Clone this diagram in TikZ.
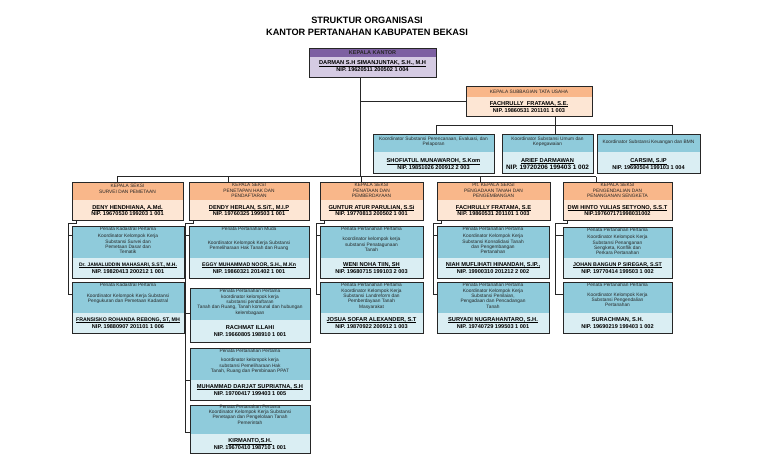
\documentclass[tikz,border=0pt]{standalone}
\usepackage{fontspec}
\setmainfont{Liberation Sans}
\usetikzlibrary{fit,calc}
\definecolor{ohead}{HTML}{F9B78A}
\definecolor{olow}{HTML}{FDE6D4}
\definecolor{bhead}{HTML}{8FCBDB}
\definecolor{blow}{HTML}{DAEEF3}
\definecolor{phead}{HTML}{7D60A2}
\definecolor{plow}{HTML}{D5CBE3}
\newcommand\ul[1]{\setbox0\hbox{#1}\rlap{\raisebox{-1.1pt}{\rule{\wd0}{0.5pt}}}\box0}
\newcommand\nip[1]{\fontsize{5.6}{6.7}\selectfont #1}
\newcommand\fs[1]{\fontsize{#1}{6.7}\selectfont}
\tikzset{
  frame/.style={draw=black!85, line width=0.9pt},
  small/.style={font=\fontsize{4.8}{5.3}\selectfont, align=center, inner sep=0pt, text=black!85},
  nm/.style={font=\fontsize{5.7}{6.7}\selectfont\bfseries, align=center, inner sep=0pt},
  wire/.style={draw=black!85, line width=0.8pt},
}
\newcommand\orgbox[7]{%
  \fill[black!45] (#2+1.3,#3+1.3) rectangle (#4+1.3,#5+1.3);
  \fill[#7head] (#2,#3) rectangle (#4,#6);
  \fill[#7low] (#2,#6) rectangle (#4,#5);
  \node[frame, inner sep=0pt, outer sep=0pt, fit={(#2,#3) (#4,#5)}] (#1) {};
}
\begin{document}
\begin{tikzpicture}[x=1pt,y=-1pt]
\useasboundingbox[fill=white] (0,0) rectangle (768,466);

% title
\node[font=\fontsize{9.2}{12.3}\selectfont\bfseries, align=center, inner sep=0pt] (title) at (367,26)
  {STRUKTUR ORGANISASI\\KANTOR PERTANAHAN KABUPATEN BEKASI};

% ---------- connectors ----------
\coordinate (bus) at (360,176.5);
\coordinate (kb) at (360,101);
\coordinate (j1) at (117,176.5);
\coordinate (j2) at (228,176.5);
\coordinate (j3) at (361,176.5);
\coordinate (j4) at (480,176.5);
\coordinate (j5) at (596,176.5);
\coordinate (tb1) at (436,125);
\coordinate (tb2) at (555,125);
\coordinate (tb3) at (672,125);

% ---------- boxes ----------
\orgbox{kk}{309}{48}{436}{77}{57}{p}
\orgbox{ks}{466}{86}{592}{116}{97}{o}
\orgbox{t1}{373}{134}{494}{173}{152}{b}
\orgbox{t2}{502}{134}{593}{173}{152}{b}
\orgbox{t3}{597}{134}{700}{173}{152}{b}
\orgbox{s1}{72}{182}{183}{220}{200}{o}
\orgbox{s2}{189}{182}{309}{220}{200}{o}
\orgbox{s3}{320}{182}{423}{220}{200}{o}
\orgbox{s4}{437}{182}{550}{220}{200}{o}
\orgbox{s5}{563}{182}{672}{220}{200}{o}
\orgbox{a}{72}{226}{184}{278}{258}{b}
\orgbox{bb}{72}{282}{184}{333}{313}{b}
\orgbox{c}{189}{226}{309}{278}{258}{b}
\orgbox{d}{190}{288}{310}{342}{320}{b}
\orgbox{e}{190}{348}{310}{400}{380}{b}
\orgbox{f}{190}{405}{310}{453}{434}{b}
\orgbox{g}{320}{226}{423}{278}{258}{b}
\orgbox{h}{320}{282}{423}{333}{313}{b}
\orgbox{i}{437}{226}{549}{278}{258}{b}
\orgbox{jj}{437}{282}{549}{333}{313}{b}
\orgbox{k}{563}{227}{672}{278}{258}{b}
\orgbox{l}{563}{282}{672}{333}{313}{b}

% top connectors
\draw[wire] (kk.south -| bus) -- (bus);
\draw[wire] (kb) -- (kb -| ks.west);
\draw[wire] (j1) -- (j5);
\draw[wire] (j1) -- (j1 |- s1.north);
\draw[wire] (j2) -- (j2 |- s2.north);
\draw[wire] (j3) -- (j3 |- s3.north);
\draw[wire] (j4) -- (j4 |- s4.north);
\draw[wire] (j5) -- (j5 |- s5.north);
\draw[wire] (ks.south -| tb2) -- (tb2);
\draw[wire] (tb1) -- (tb3);
\draw[wire] (tb1) -- (tb1 |- t1.north);
\draw[wire] (tb2) -- (tb2 |- t2.north);
\draw[wire] (tb3) -- (tb3 |- t3.north);

% rails
\coordinate (r1) at (68,223);  \coordinate (r1a) at (68,235);  \coordinate (r1b) at (68,294);
\draw[wire] ([xshift=4pt]s1.south west) |- (r1) -- (r1b) -- (r1b -| bb.west);
\draw[wire] (r1a) -- (r1a -| a.west);
\coordinate (r2) at (185,223); \coordinate (r2a) at (185,235); \coordinate (r2b) at (185,313);
\coordinate (r2c) at (185,380); \coordinate (r2d) at (185,432);
\draw[wire] ([xshift=4pt]s2.south west) |- (r2) -- (r2d) -- (r2d -| f.west);
\draw[wire] (r2a) -- (r2a -| c.west);
\draw[wire] (r2b) -- (r2b -| d.west);
\draw[wire] (r2c) -- (r2c -| e.west);
\coordinate (r3) at (316,223); \coordinate (r3a) at (316,235); \coordinate (r3b) at (316,294);
\draw[wire] ([xshift=4pt]s3.south west) |- (r3) -- (r3b) -- (r3b -| h.west);
\draw[wire] (r3a) -- (r3a -| g.west);
\coordinate (r4) at (433,223); \coordinate (r4a) at (433,235); \coordinate (r4b) at (433,294);
\draw[wire] ([xshift=4pt]s4.south west) |- (r4) -- (r4b) -- (r4b -| jj.west);
\draw[wire] (r4a) -- (r4a -| i.west);
\coordinate (r5) at (555,223); \coordinate (r5a) at (555,235); \coordinate (r5b) at (555,294);
\draw[wire] ([xshift=4pt]s5.south west) |- (r5) -- (r5b) -- (r5b -| l.west);
\draw[wire] (r5a) -- (r5a -| k.west);

% ---------- texts ----------
% Kepala Kantor
\node[small, font=\fontsize{5.5}{5.6}\selectfont\bfseries] (kkh) at (372.5,52.7) {KEPALA KANTOR};
\node[nm] (kkn) at (372.5,66.3) {\ul{DARMAN S.H SIMANJUNTAK, S.H., M.H}\\\nip{NIP. 19620511 200502 1 004}};
% Kasubag
\node[small] (ksh) at (529,91.8) {KEPALA SUBBAGIAN TATA USAHA};
\node[nm] (ksn) at (529,106.9) {\ul{FACHRULLY\ \ FRATAMA, S.E.}\\\nip{NIP. 19860531 201101 1 003}};
% TU staff
\node[small] (t1h) at (433.5,141.8) {Koordinator Substansi Perencanaan, Evaluasi, dan\\Pelaporan};
\node[nm] (t1n) at (433.5,164.3) {\ul{SHOFIATUL MUNAWAROH, S.Kom}\\\nip{NIP. 19851026 200912 2 003}};
\node[small] (t2h) at (547.5,141.8) {Koordinator Substansi Umum dan\\Kepegawaian};
\node[nm] (t2n) at (547.5,164.3) {\ul{ARIEF DARMAWAN}\\\fs{6.4}NIP. 19720206 199403 1 002};
\node[small] (t3h) at (648.5,142.5) {Koordinator Substansi Keuangan dan BMN};
\node[nm] (t3n) at (648.5,164.3) {\ul{CARSIM, S.IP}\\\nip{NIP. 19690504 199103 1 004}};
% sections
\node[small] (s1h) at (127.5,188.8) {KEPALA SEKSI\\[1.5pt]SURVEI DAN PEMETAAN};
\node[nm] (s1n) at (127.5,210.5) {\ul{DENY HENDHIANA, A.Md.}\\\nip{NIP. 19670530 199203 1 001}};
\node[small] (s2h) at (249,190.5) {KEPALA SEKSI\\PENETAPAN HAK DAN\\PENDAFTARAN};
\node[nm] (s2n) at (249,210.5) {\ul{DENDY HERLAN, S.SiT., M.I.P}\\\nip{NIP. 19760325 199503 1 001}};
\node[small] (s3h) at (371.5,190.5) {KEPALA SEKSI\\PENATAAN DAN\\PEMBERDAYAAN};
\node[nm] (s3n) at (371.5,210.5) {\ul{GUNTUR ATUR PARULIAN, S.Si}\\\nip{NIP. 19770813 200502 1 001}};
\node[small] (s4h) at (493.5,190.5) {Plt. KEPALA SEKSI\\PENGADAAN TANAH DAN\\PENGEMBANGAN};
\node[nm] (s4n) at (493.5,210.5) {\ul{FACHRULLY FRATAMA, S.E}\\\nip{NIP. 19860531 201101 1 003}};
\node[small] (s5h) at (617.5,190.5) {KEPALA SEKSI\\PENGENDALIAN DAN\\PENANGANAN SENGKETA};
\node[nm] (s5n) at (617.5,210.5) {\ul{DWI HINTO YULIAS SETYONO, S.S.T}\\\nip{NIP.197607171998031002}};
% staff col 1
\node[small, anchor=north] (ah) at (128,227.3) {Penata Kadastral Pertama\\[1.5pt]Koordinator Kelompok Kerja\\Substansi Survei dan\\Pemetaan Dasar dan\\Tematik};
\node[nm] (an) at (128,268) {\fs{5.0}\ul{Dr. JAMALUDDIN MAHASARI, S.ST., M.H.}\\\nip{NIP. 19820413 200212 1 001}};
\node[small, anchor=north] (bh) at (128,283.3) {Penata Kadastral Pertama\\[5pt]Koordinator Kelompok Kerja Substansi\\Pengukuran dan Pemetaan Kadastral};
\node[nm] (bn) at (128,323) {\fs{5.25}\ul{FRANSISKO ROHANDA REBONG, ST, MH}\\\nip{NIP. 19880907 201101 1 006}};
% staff col 2
\node[small, anchor=north] (ch) at (249,227.3) {Penata Pertanahan Muda\\[8pt]Koordinator Kelompok Kerja Substansi\\Pemeliharaan Hak Tanah dan Ruang};
\node[nm] (cn) at (249,268) {\fs{5.2}\ul{EGGY MUHAMMAD NOOR, S.H., M.Kn}\\\nip{NIP. 19860321 201402 1 001}};
\node[small, anchor=north] (dh) at (250,289.3) {Penata Pertanahan Pertama\\koordinator kelompok kerja\\substansi pendaftaran\\Tanah dan Ruang, Tanah komunal dan hubungan\\kelembagaan};
\node[nm] (dn) at (250,330.8) {RACHMAT ILLAHI\\\nip{NIP. 19660805 198910 1 001}};
\node[small, anchor=north] (eh) at (250,349.3) {Penata Pertanahan Pertama\\[3.5pt]koordinator kelompok kerja\\substansi Pemeliharaan Hak\\Tanah, Ruang dan Pembinaan PPAT};
\node[nm] (en) at (250,389.8) {\ul{MUHAMMAD DARJAT SUPRIATNA, S.H}\\\nip{NIP. 19700417 199403 1 005}};
\node[small, anchor=north] (fh) at (250,404.5) {Penata Pertanahan Pertama\\Koordinator Kelompok Kerja Substansi\\Penetapan dan Pengelolaan Tanah\\Pemerintah};
\node[nm] (fn) at (250,444.3) {\ul{KIRMANTO,S.H.}\\\nip{NIP. 19670410 198710 1 001}};
% staff col 3
\node[small, anchor=north] (gh) at (371.5,227.3) {Penata Pertanahan Pertama\\[4.5pt]koordinator kelompok kerja\\substansi Penatagunaan\\Tanah};
\node[nm] (gn) at (371.5,268) {\ul{WENI NOHA TIIN, SH}\\\nip{NIP. 19680715 199103 2 003}};
\node[small, anchor=north] (hh) at (371.5,283.3) {Penata Pertanahan Pertama\\Koordinator Kelompok Kerja\\Substansi Landreform dan\\Pemberdayaan Tanah\\Masyarakat};
\node[nm] (hn) at (371.5,323) {\ul{JOSUA SOFAR ALEXANDER, S.T}\\\nip{NIP. 19870922 200912 1 003}};
% staff col 4
\node[small, anchor=north] (ih) at (493,227.3) {Penata Pertanahan Pertama\\[1.5pt]Koordinator Kelompok Kerja\\Substansi Konsolidasi Tanah\\dan Pengembangan\\Pertanahan};
\node[nm] (in) at (493,268) {\ul{NIAH MUFLIHATI HINANDAH, S.IP.,}\\\nip{NIP. 19900310 201212 2 002}};
\node[small, anchor=north] (jh) at (493,283.3) {Penata Pertanahan Pertama\\Koordinator Kelompok Kerja\\Substansi Penilaian,\\Pengadaan dan Pencadangan\\Tanah};
\node[nm] (jn) at (493,323) {\ul{SURYADI NUGRAHANTARO, S.H.}\\\nip{NIP. 19740729 199503 1 001}};
% staff col 5
\node[small, anchor=north] (kh) at (617.5,228.3) {Penata Pertanahan Pertama\\[1.5pt]Koordinator Kelompok Kerja\\Substansi Penanganan\\Sengketa, Konflik dan\\Perkara Pertanahan};
\node[nm] (kn) at (617.5,268) {\fs{5.3}\ul{JOHAN BANGUN P SIREGAR, S.ST}\\\nip{NIP. 19770414 199503 1 002}};
\node[small, anchor=north] (lh) at (617.5,283.3) {Penata Pertanahan Pertama\\[4pt]Koordinator Kelompok Kerja\\Substansi Pengendalian\\Pertanahan};
\node[nm] (ln) at (617.5,323) {SURACHMAN, S.H.\\\nip{NIP. 19690219 199403 1 002}};
\end{tikzpicture}
\end{document}
